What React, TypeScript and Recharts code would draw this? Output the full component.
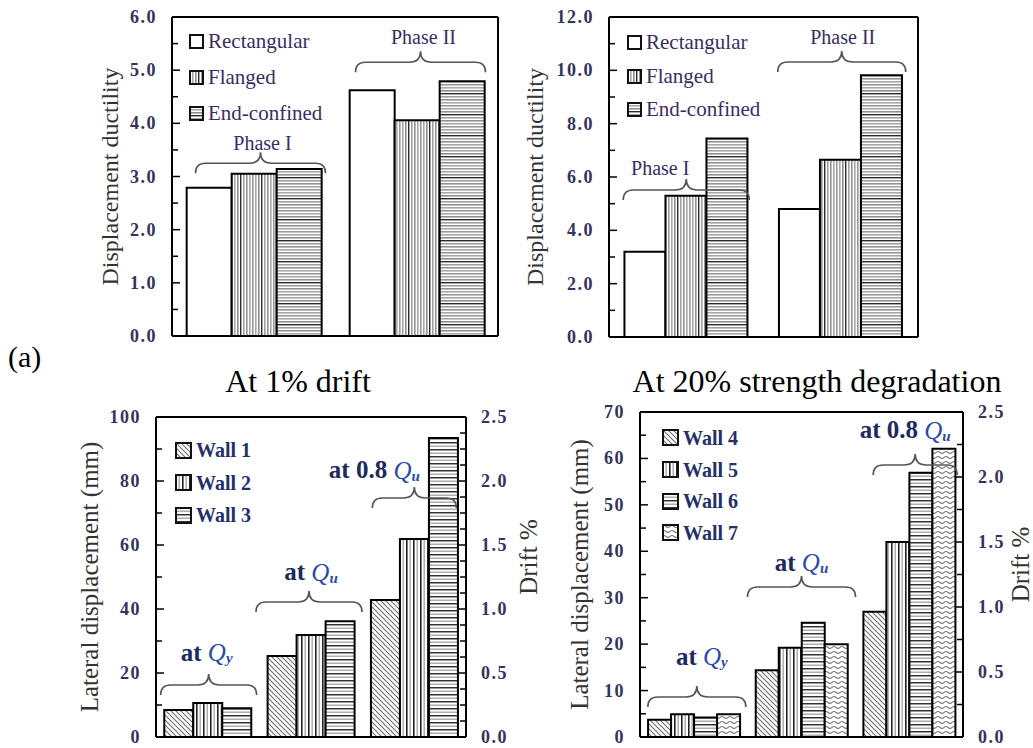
import React from 'react';
import { BarChart, Bar, XAxis, YAxis, Legend, ReferenceLine, ReferenceDot } from 'recharts';

const serif = "'Liberation Serif', 'Times New Roman', serif";

// (a) displacement ductility, two phases
const phaseCats = ['Phase I', 'Phase II'];
const driftRect = [2.79, 4.62];
const driftFlanged = [3.05, 4.06];
const driftEnd = [3.14, 4.79];
const degRect = [3.2, 4.8];
const degFlanged = [5.3, 6.65];
const degEnd = [7.44, 9.82];

const ductTicksA = [0, 0.5, 1, 1.5, 2, 2.5, 3, 3.5, 4, 4.5, 5, 5.5, 6];
const ductMajorsA = [0, 1, 2, 3, 4, 5, 6];
const ductTicksB = [0, 1, 2, 3, 4, 5, 6, 7, 8, 9, 10, 11, 12];
const ductMajorsB = [0, 2, 4, 6, 8, 10, 12];

// (b) lateral displacement at three stages
const stageCats = ['at Qy', 'at Qu', 'at 0.8Qu'];
const wall1 = [8.4, 25.3, 42.8];
const wall2 = [10.6, 31.9, 61.9];
const wall3 = [9.0, 36.2, 93.4];
const wall4 = [3.7, 14.4, 27.0];
const wall5 = [4.9, 19.2, 42.0];
const wall6 = [4.2, 24.6, 56.9];
const wall7 = [4.9, 20.0, 62.1];

const dispTicksA = [0, 10, 20, 30, 40, 50, 60, 70, 80, 90, 100];
const dispMajorsA = [0, 20, 40, 60, 80, 100];
const driftTicksA = [0, 0.125, 0.25, 0.375, 0.5, 0.625, 0.75, 0.875, 1, 1.125, 1.25, 1.375, 1.5, 1.625, 1.75, 1.875, 2, 2.125, 2.25, 2.375, 2.5];
const dispTicksB = [0, 5, 10, 15, 20, 25, 30, 35, 40, 45, 50, 55, 60, 65, 70];
const dispMajorsB = [0, 10, 20, 30, 40, 50, 60, 70];
const driftTicksB = [0, 0.25, 0.5, 0.75, 1, 1.25, 1.5, 1.75, 2, 2.25, 2.5];
const driftMajors = [0, 0.5, 1, 1.5, 2, 2.5];

// braces + labels over each group
const notesA = [
  { cat: 'Phase I', y: 3.25, prefix: 'Phase I', dx: 7, half: 65, labelDx: 9, labelDy: -20 },
  { cat: 'Phase II', y: 5.15, prefix: 'Phase II', dx: 4, half: 65, labelDx: 7, labelDy: -25 },
];
const notesB = [
  { cat: 'Phase I', y: 5.51, prefix: 'Phase I', dx: 0, half: 63, labelDx: -26, labelDy: -22 },
  { cat: 'Phase II', y: 10.31, prefix: 'Phase II', dx: 1, half: 64, labelDx: 2, labelDy: -25 },
];
const notesC = [
  { cat: 'at Qy', y: 16.25, prefix: 'at ', sub: 'y', dx: 1, half: 48, labelDx: -1, labelDy: -33 },
  { cat: 'at Qu', y: 42.2, prefix: 'at ', sub: 'u', dx: -2, half: 53, labelDx: 0, labelDy: -30 },
  { cat: 'at 0.8Qu', y: 74.7, prefix: 'at 0.8 ', sub: 'u', dx: 0, half: 42, labelDx: -40, labelDy: -28 },
];
const notesD = [
  { cat: 'at Qy', y: 8.6, prefix: 'at ', sub: 'y', dx: 3, half: 49, labelDx: 8, labelDy: -41 },
  { cat: 'at Qu', y: 32.3, prefix: 'at ', sub: 'u', dx: 0, half: 54, labelDx: 0, labelDy: -25 },
  { cat: 'at 0.8Qu', y: 58.6, prefix: 'at 0.8 ', sub: 'u', dx: 6, half: 42, labelDx: -4, labelDy: -35 },
];

const phaseSeries = [
  { key: 'rect', name: 'Rectangular', fill: 'url(#pRect)' },
  { key: 'flanged', name: 'Flanged', fill: 'url(#pFine)' },
  { key: 'end', name: 'End-confined', fill: 'url(#pFineH)' },
];
const wallSeriesA = [
  { key: 'w1', name: 'Wall 1', fill: 'url(#pDiag)' },
  { key: 'w2', name: 'Wall 2', fill: 'url(#pVert)' },
  { key: 'w3', name: 'Wall 3', fill: 'url(#pHoriz)' },
];
const wallSeriesB = [
  { key: 'w4', name: 'Wall 4', fill: 'url(#pDiag)' },
  { key: 'w5', name: 'Wall 5', fill: 'url(#pVert)' },
  { key: 'w6', name: 'Wall 6', fill: 'url(#pHoriz)' },
  { key: 'w7', name: 'Wall 7', fill: 'url(#pWave)' },
];

const dataA = phaseCats.map((cat, i) => ({ cat, rect: driftRect[i], flanged: driftFlanged[i], end: driftEnd[i] }));
const dataB = phaseCats.map((cat, i) => ({ cat, rect: degRect[i], flanged: degFlanged[i], end: degEnd[i] }));
const dataC = stageCats.map((cat, i) => ({ cat, w1: wall1[i], w2: wall2[i], w3: wall3[i] }));
const dataD = stageCats.map((cat, i) => ({ cat, w4: wall4[i], w5: wall5[i], w6: wall6[i], w7: wall7[i] }));

const tickFont = { fontFamily: serif, fontSize: 18, fontWeight: 'bold', letterSpacing: 1.5, fill: '#34345a' };
const topLegendFont = { fontFamily: serif, fontSize: 21, color: '#3b2d63', lineHeight: 1 };
const botLegendFont = { fontFamily: serif, fontSize: 20, fontWeight: 'bold', color: '#24306a', lineHeight: 1 };
const phaseNoteFont = { fontFamily: serif, fontSize: 20, fill: '#3b2d63' };
const stageNoteFont = { fontFamily: serif, fontSize: 25, fontWeight: 'bold', fill: '#1e2a5c' };

const AxisTick = ({ x, y, payload, dir, majors, digits }: any) => {
  const v = payload.value;
  const major = majors.includes(v);
  return (
    <g>
      <line x1={x} x2={x + dir * (major ? 8 : 6)} y1={y} y2={y} stroke="#000" strokeWidth={1.5} />
      {major && (
        <text x={x - dir * 15} y={y} textAnchor={dir > 0 ? 'end' : 'start'} dominantBaseline="central" {...tickFont}>
          {v.toFixed(digits)}
        </text>
      )}
    </g>
  );
};

const NoteMark = ({ cx, cy, note, font }: any) => {
  const bx = cx + note.dx;
  const w = note.half;
  const a = 10;
  const t = 11;
  const d = `M${bx - w},${cy + a} Q${bx - w},${cy} ${bx - w + a},${cy} L${bx - t},${cy} Q${bx},${cy} ${bx},${cy - t} Q${bx},${cy} ${bx + t},${cy} L${bx + w - a},${cy} Q${bx + w},${cy} ${bx + w},${cy + a}`;
  return (
    <g>
      <path d={d} fill="none" stroke="#555" strokeWidth={1.6} />
      <text x={cx + note.labelDx} y={cy + note.labelDy} textAnchor="middle" dominantBaseline="central" {...font}>
        {note.prefix}
        {note.sub && (
          <>
            <tspan fontStyle="italic" fontWeight="normal" fill="#2b4aa8">Q</tspan>
            <tspan fontStyle="italic" fontSize="0.6em" dy={6} fill="#2b4aa8">{note.sub}</tspan>
          </>
        )}
      </text>
    </g>
  );
};

const SwatchLegend = ({ payload, series, row, box, gap, font }: any) => {
  const items = series.map((s: any) => (payload || []).find((p: any) => p.dataKey === s.key) || { value: s.name, color: s.fill });
  return (
    <div>
      {items.map((e: any) => (
        <div key={e.value} style={{ display: 'flex', alignItems: 'center', height: row }}>
          <svg width={box} height={box} style={{ marginRight: gap, flex: 'none' }}>
            <rect x={1} y={1} width={box - 2} height={box - 2} fill={e.color} stroke="#111" strokeWidth={2} />
          </svg>
          <span style={font}>{e.value}</span>
        </div>
      ))}
    </div>
  );
};

const sideTitle = (text: string, x: number, y: number, size: number) => ({
  content: () => (
    <text x={x} y={y} transform={`rotate(-90 ${x} ${y})`} textAnchor="middle" dominantBaseline="central"
      fontFamily={serif} fontSize={size} fill="#333">
      {text}
    </text>
  ),
});

function Panel({ data, series, box, plot, yMax, yTicks, yMajors, yDigits, right, notes, noteFont, legend, gap, leftTitle, rightTitle }: any) {
  const yW = 62;
  const rW = right ? 50 : 1;
  const xH = 2;
  const margin = {
    top: plot.t - box.y,
    left: plot.l - box.x - yW,
    right: box.x + box.w - plot.r - rW,
    bottom: box.y + box.h - plot.b - xH,
  };
  const midY = (plot.t + plot.b) / 2 - box.y;
  return (
    <div style={{ position: 'absolute', left: box.x, top: box.y }}>
      <BarChart width={box.w} height={box.h} data={data} margin={margin} barGap={0} barCategoryGap={gap} style={{ overflow: 'visible' }}>
        <XAxis dataKey="cat" tick={false} tickLine={false} height={xH} axisLine={{ stroke: '#000', strokeWidth: 2 }} />
        <YAxis
          domain={[0, yMax]}
          ticks={yTicks}
          interval={0}
          width={yW}
          tickSize={0}
          tickMargin={0}
          tickLine={false}
          axisLine={{ stroke: '#000', strokeWidth: 2 }}
          tick={(p: any) => <AxisTick {...p} dir={1} majors={yMajors} digits={yDigits} />}
          label={sideTitle(leftTitle.text, plot.l - box.x - leftTitle.dist, midY, leftTitle.size)}
        />
        {right ? (
          <YAxis
            yAxisId="right"
            orientation="right"
            type="number"
            domain={[0, 2.5]}
            allowDataOverflow
            ticks={right.ticks}
            interval={0}
            width={rW}
            tickSize={0}
            tickMargin={0}
            tickLine={false}
            axisLine={{ stroke: '#000', strokeWidth: 2 }}
            tick={(p: any) => <AxisTick {...p} dir={-1} majors={right.majors} digits={1} />}
            label={sideTitle(rightTitle.text, plot.r - box.x + rightTitle.dist, midY + rightTitle.dy, rightTitle.size)}
          />
        ) : (
          <YAxis yAxisId="frame" orientation="right" type="number" domain={[0, 1]} allowDataOverflow width={rW}
            tick={false} tickLine={false} axisLine={{ stroke: '#000', strokeWidth: 2 }} />
        )}
        <ReferenceLine y={yMax} stroke="#000" strokeWidth={2} />
        <Legend
          layout="vertical"
          align="center"
          verticalAlign="middle"
          wrapperStyle={{ left: legend.left, top: legend.top, width: 200 }}
          content={(p: any) => <SwatchLegend {...p} series={series} {...legend} />}
        />
        {series.map((s: any) => (
          <Bar key={s.key} dataKey={s.key} name={s.name} fill={s.fill} stroke="#000" strokeWidth={2} isAnimationActive={false} />
        ))}
        {notes.map((n: any) => (
          <ReferenceDot key={n.cat} x={n.cat} y={n.y} r={1} ifOverflow="visible"
            shape={(p: any) => <NoteMark cx={p.cx} cy={p.cy} note={n} font={noteFont} />} />
        ))}
      </BarChart>
    </div>
  );
}

export default function App() {
  return (
    <div style={{ position: 'absolute', left: 0, top: 0, width: 1033, height: 748, background: '#fff', overflow: 'hidden' }}>
      <svg width={0} height={0} style={{ position: 'absolute' }}>
        <defs>
          <pattern id="pRect" width={4} height={4} patternUnits="userSpaceOnUse">
            <rect width={4} height={4} fill="#fff" />
          </pattern>
          <pattern id="pFine" width={21} height={4} patternUnits="userSpaceOnUse">
            <rect width={21} height={4} fill="#fff" />
            <rect x={0} width={1.6} height={4} fill="#9a9a9a" />
            <rect x={3} width={1.6} height={4} fill="#a8a8a8" />
            <rect x={6} width={1.6} height={4} fill="#8e8e8e" />
            <rect x={9} width={1.4} height={4} fill="#2a2a2a" />
            <rect x={12} width={1.6} height={4} fill="#a0a0a0" />
            <rect x={15} width={1.6} height={4} fill="#929292" />
            <rect x={18} width={1.6} height={4} fill="#a8a8a8" />
          </pattern>
          <pattern id="pFineH" width={4} height={21} patternUnits="userSpaceOnUse">
            <rect width={4} height={21} fill="#fff" />
            <rect y={0} height={1.6} width={4} fill="#9a9a9a" />
            <rect y={3} height={1.6} width={4} fill="#a8a8a8" />
            <rect y={6} height={1.6} width={4} fill="#8e8e8e" />
            <rect y={9} height={1.4} width={4} fill="#2a2a2a" />
            <rect y={12} height={1.6} width={4} fill="#a0a0a0" />
            <rect y={15} height={1.6} width={4} fill="#929292" />
            <rect y={18} height={1.6} width={4} fill="#a8a8a8" />
          </pattern>
          <pattern id="pDiag" width={5} height={5} patternUnits="userSpaceOnUse">
            <rect width={5} height={5} fill="#fff" />
            <path d="M0,0 L5,5 M-1,4 L1,6 M4,-1 L6,1" stroke="#707070" strokeWidth={1.1} />
          </pattern>
          <pattern id="pVert" width={7} height={4} patternUnits="userSpaceOnUse">
            <rect width={7} height={4} fill="#fff" />
            <rect x={0} width={1.6} height={4} fill="#222" />
            <rect x={3.5} width={1.4} height={4} fill="#a8a8a8" />
          </pattern>
          <pattern id="pHoriz" width={4} height={7} patternUnits="userSpaceOnUse">
            <rect width={4} height={7} fill="#fff" />
            <rect y={0} height={1.5} width={4} fill="#333" />
            <rect y={3.5} height={1.4} width={4} fill="#a8a8a8" />
          </pattern>
          <pattern id="pWave" width={8} height={5} patternUnits="userSpaceOnUse">
            <rect width={8} height={5} fill="#fff" />
            <path d="M0,2.5 Q2,0.5 4,2.5 T8,2.5" fill="none" stroke="#7a7a7a" strokeWidth={1.1} />
          </pattern>
        </defs>
      </svg>

      <Panel
        data={dataA} series={phaseSeries}
        box={{ x: 0, y: 0, w: 520, h: 350 }} plot={{ l: 172, t: 17, r: 498, b: 336 }}
        yMax={6} yTicks={ductTicksA} yMajors={ductMajorsA} yDigits={1}
        notes={notesA} noteFont={phaseNoteFont} gap="9%"
        legend={{ left: 189, top: 23, row: 36, box: 15, gap: 4, font: topLegendFont }}
        leftTitle={{ text: 'Displacement ductility', dist: 62, size: 24 }}
      />
      <Panel
        data={dataB} series={phaseSeries}
        box={{ x: 500, y: 0, w: 440, h: 350 }} plot={{ l: 609, t: 17, r: 918, b: 337 }}
        yMax={12} yTicks={ductTicksB} yMajors={ductMajorsB} yDigits={1}
        notes={notesB} noteFont={phaseNoteFont} gap="10%"
        legend={{ left: 127, top: 26, row: 33.5, box: 15, gap: 4, font: topLegendFont }}
        leftTitle={{ text: 'Displacement ductility', dist: 74, size: 24 }}
      />
      <Panel
        data={dataC} series={wallSeriesA}
        box={{ x: 0, y: 400, w: 540, h: 348 }} plot={{ l: 156, t: 417, r: 466, b: 737 }}
        yMax={100} yTicks={dispTicksA} yMajors={dispMajorsA} yDigits={0}
        right={{ ticks: driftTicksA, majors: driftMajors }}
        notes={notesC} noteFont={stageNoteFont} gap="8%"
        legend={{ left: 175, top: 34, row: 32.5, box: 17, gap: 4, font: botLegendFont }}
        leftTitle={{ text: 'Lateral displacement (mm)', dist: 67, size: 25 }}
        rightTitle={{ text: 'Drift %', dist: 62, dy: -20, size: 25 }}
      />
      <Panel
        data={dataD} series={wallSeriesB}
        box={{ x: 520, y: 395, w: 513, h: 353 }} plot={{ l: 640, t: 412, r: 963, b: 737 }}
        yMax={70} yTicks={dispTicksB} yMajors={dispMajorsB} yDigits={0}
        right={{ ticks: driftTicksB, majors: driftMajors }}
        notes={notesD} noteFont={stageNoteFont} gap="7.5%"
        legend={{ left: 142, top: 27, row: 31.7, box: 17, gap: 4, font: botLegendFont }}
        leftTitle={{ text: 'Lateral displacement (mm)', dist: 61, size: 25 }}
        rightTitle={{ text: 'Drift %', dist: 57, dy: -10, size: 25 }}
      />

      <svg width={1033} height={748} style={{ position: 'absolute', left: 0, top: 0, pointerEvents: 'none' }}>
        <text x={8} y={367} fontFamily={serif} fontSize={30} fill="#000">(a)</text>
        <text x={298} y={392} textAnchor="middle" fontFamily={serif} fontSize={32} fill="#000">At 1% drift</text>
        <text x={817} y={392} textAnchor="middle" fontFamily={serif} fontSize={32} fill="#000">At 20% strength degradation</text>
      </svg>
    </div>
  );
}
